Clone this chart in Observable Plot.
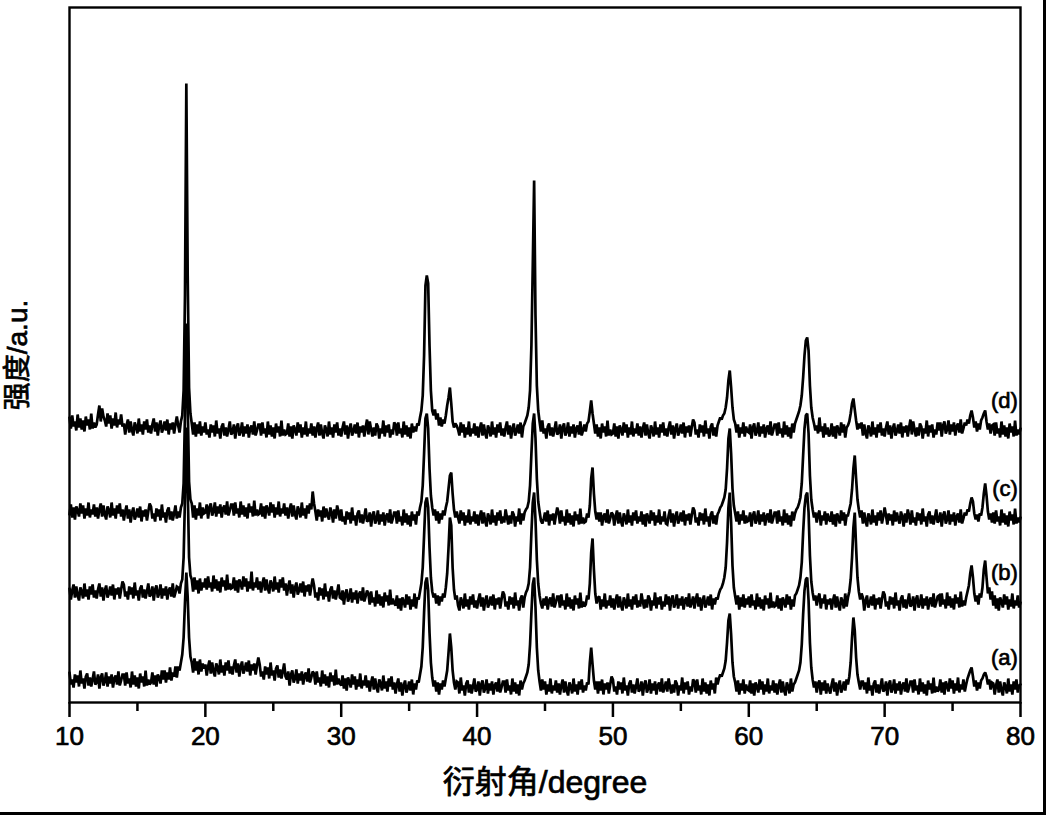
<!DOCTYPE html>
<html><head><meta charset="utf-8">
<script src="https://cdn.jsdelivr.net/npm/d3@7"></script>
<script src="https://cdn.jsdelivr.net/npm/@observablehq/plot@0.6"></script>
<style>
html,body{margin:0;padding:0;background:#fff;}
#wrap{width:1046px;height:815px;position:relative;overflow:hidden;background:#fff;}
#edge{position:absolute;left:0;top:0;width:1046px;height:815px;box-sizing:border-box;border-right:3px solid #000;border-bottom:3px solid #000;pointer-events:none;}
svg text{stroke:#000;stroke-width:0.7px;}
</style></head><body><div id="wrap"><div id="edge"></div></div>
<script>
// each row holds readings at 0.1° steps over 2°, starting at 10°, 12°, ... ; the last row is 80°
const angleStart = 10;
const rowSpan = 2;
const angleStep = 0.1;
const seriesNames = ["(a)", "(b)", "(c)", "(d)"];
const seriesOffsets = [10, 95, 179, 267];
const xTicks = [10, 20, 30, 40, 50, 60, 70, 80];
const xMinorTicks = [15, 25, 35, 45, 55, 65, 75];
const xTitle = "衍射角/degree";
const yTitle = "强度/a.u.";

const aRows = [
[20,8,13,5,18,10,17,6,22,9,14,4,16,19,7,15,6,13,21,8],
[10,18,4,15,19,7,11,20,6,16,9,18,5,14,17,8,21,7,12,18],
[18,7,20,9,14,5,21,8,17,6,15,4,19,10,16,6,22,7,13,8],
[10,20,8,17,6,18,15,9,22,13,22,10,20,13,25,12,20,16,26,15],
[26,22,30,38,55,90,120,95,55,36,30,20,34,22,31,18,33,21,29,24],
[28,17,26,32,19,30,21,16,29,25,18,33,20,27,17,30,22,32,19,26],
[18,27,33,20,29,16,26,31,19,23,30,21,32,17,28,22,29,18,27,35],
[28,16,21,13,26,18,25,14,30,17,22,12,24,27,15,23,14,21,29,16],
[13,21,7,18,22,10,14,23,9,19,12,21,8,17,20,11,24,10,15,21],
[19,8,21,10,15,6,22,9,18,7,16,5,20,11,17,7,23,8,14,9],
[7,17,4,14,2,15,11,5,18,8,16,3,13,6,19,4,12,7,17,5],
[12,1,10,16,3,14,5,0,13,9,2,17,4,11,1,14,6,16,3,10],
[-1,8,14,1,10,-3,7,12,0,4,11,2,13,-2,9,3,12,10,18,26],
[45,80,110,115,102,60,30,15,6,12,1,10,-2,9,3,12,6,14,22,40],
[59,45,22,10,3,11,10,-1,15,2,7,-3,9,12,0,8,-1,6,14,1],
[3,11,-3,8,12,0,4,13,-1,9,2,11,-2,7,10,1,14,0,5,11],
[11,0,13,2,7,-2,14,1,10,-1,8,-3,12,3,9,12,16,20,28,48],
[80,108,115,85,45,22,11,2,13,3,11,-2,8,1,14,-1,7,2,12,0],
[9,-2,7,13,0,11,2,-3,10,6,-1,14,1,8,-2,11,3,13,0,7],
[2,10,8,30,45,28,12,3,11,-1,11,2,13,-2,9,3,10,-1,8,16],
[13,1,6,-2,11,3,10,-1,15,2,7,-3,9,12,0,8,-1,6,14,1],
[3,11,-3,8,12,0,4,13,-1,9,2,11,-2,7,10,1,14,0,5,11],
[1,14,6,-1,8,0,12,9,-3,7,2,15,-1,10,3,11,-2,6,1,13],
[11,0,13,2,7,-2,14,1,10,-1,8,-3,12,3,9,-1,15,8,14,18],
[16,20,24,32,50,72,79,58,30,16,10,1,12,-2,9,2,13,-1,8,3],
[2,12,-1,9,-3,10,6,0,13,3,11,-2,8,1,14,-1,7,2,12,0],
[9,-2,7,13,0,11,2,-3,10,6,-1,14,1,8,10,14,18,22,30,48],
[78,102,113,115,92,50,25,13,5,11,0,9,12,-2,10,2,12,-1,9,3],
[-1,8,14,1,10,-3,7,12,0,4,11,2,13,8,16,30,55,75,62,35],
[18,10,3,11,11,3,10,-1,15,2,7,-3,9,12,0,8,-1,6,14,1],
[3,11,-3,8,12,0,4,13,-1,9,2,11,-2,7,10,1,14,0,5,11],
[11,0,13,2,7,-2,14,1,10,-1,8,-3,12,3,9,-1,15,0,6,1],
[3,13,0,10,-2,11,7,1,14,4,12,-1,9,2,15,0,8,3,13,1],
[8,14,18,22,25,16,6,12,2,10,4,12,14,18,20,16,8,13,3,10],
[9,-2,7,13,0,11,2,-3,10,6,-1,14,1,8,-2,11,3,13,0,7],
[8]];

const bRows = [
[19,8,17,23,10,21,12,7,20,16,9,24,11,18,8,21,13,23,10,17],
[9,18,24,11,20,7,17,22,10,14,21,12,23,8,19,13,20,9,18,26],
[23,11,16,8,21,13,20,9,25,12,17,7,19,22,10,18,9,16,24,11],
[13,21,7,18,22,10,14,23,9,19,12,21,8,17,20,11,24,10,15,21],
[20,14,24,28,50,110,180,120,50,32,28,16,30,18,27,14,29,17,25,20],
[29,18,31,20,25,16,32,19,28,17,26,15,30,21,27,17,33,18,24,19],
[20,30,17,27,15,28,24,18,31,21,29,16,26,19,36,17,25,20,30,18],
[26,15,24,30,17,28,19,14,27,23,16,31,18,25,15,28,20,30,17,24],
[12,21,27,14,23,10,20,25,13,17,24,15,26,11,22,16,23,12,21,29],
[22,10,15,7,20,12,19,8,24,11,16,6,18,21,9,17,8,15,23,10],
[9,17,3,14,18,6,10,19,5,15,8,17,4,13,16,7,20,6,11,17],
[14,3,16,5,10,1,17,4,13,2,11,0,15,6,12,2,18,3,9,4],
[2,12,-1,9,-3,10,6,0,13,3,11,-2,8,1,14,-1,10,8,16,24],
[40,72,105,110,100,60,30,16,10,14,4,12,2,11,6,14,10,20,34,60],
[90,82,40,18,8,12,2,-3,10,6,-1,14,1,8,-2,11,3,13,0,7],
[-1,8,14,1,10,-3,7,12,0,4,11,2,13,-2,9,3,10,-1,8,16],
[13,1,6,-2,11,3,10,-1,15,2,7,-3,9,12,0,10,15,18,24,40],
[75,105,115,88,48,24,12,4,-1,9,2,11,-2,7,10,1,14,0,5,11],
[11,0,13,2,7,-2,14,1,10,-1,8,-3,12,3,9,-1,15,0,6,1],
[3,12,8,24,55,69,38,14,4,10,11,-2,8,1,14,-1,7,2,12,0],
[9,-2,7,13,0,11,2,-3,10,6,-1,14,1,8,-2,11,3,13,0,7],
[1,14,6,-1,8,0,12,9,-3,7,2,15,-1,10,3,11,-2,6,1,13],
[3,11,-3,8,12,0,4,13,-1,9,2,11,-2,7,10,1,14,0,5,11],
[-1,8,14,1,10,-3,7,12,0,4,11,2,13,-2,9,3,10,8,14,18],
[20,24,30,40,65,100,115,85,42,20,11,3,12,-2,10,1,13,0,9,3],
[11,0,13,2,7,-2,14,1,10,-1,8,-3,12,3,9,-1,15,0,6,1],
[2,12,-1,9,-3,10,6,0,13,3,11,-2,8,1,12,14,18,22,30,45],
[75,100,112,115,95,52,26,15,7,12,2,10,14,-1,9,4,13,-2,8,3],
[9,-2,7,13,0,11,2,-3,10,6,-1,14,1,10,16,28,50,80,95,60],
[30,16,8,14,10,-3,7,12,0,4,11,2,13,-2,9,3,10,-1,8,16],
[13,1,6,-2,11,3,10,-1,15,2,7,-3,9,12,0,8,-1,6,14,1],
[3,11,-3,8,12,0,4,13,-1,9,2,11,-2,7,10,1,14,0,5,11],
[12,1,14,3,8,-1,15,2,11,0,9,-2,13,4,10,0,16,1,7,2],
[10,16,22,34,42,30,14,6,12,3,14,10,20,38,47,30,14,20,8,16],
[2,12,-1,9,-3,10,6,0,13,3,11,-2,8,1,14,-1,7,2,12,0],
[5]];

const cRows = [
[9,19,6,16,4,17,13,7,20,10,18,5,15,8,21,6,14,9,19,7],
[16,5,14,20,7,18,9,4,17,13,6,21,8,15,5,18,10,20,7,14],
[3,12,18,5,14,1,11,16,4,8,15,6,17,2,13,7,14,3,12,20],
[17,5,10,2,15,7,14,3,19,6,11,1,13,16,4,12,3,10,18,5],
[12,6,16,20,40,110,200,120,42,24,20,6,18,4,15,8,21,5,16,10],
[11,19,5,16,20,8,12,21,7,17,10,19,6,15,18,9,22,8,13,19],
[19,8,21,10,15,6,22,9,18,7,16,5,20,11,17,7,23,8,14,9],
[10,20,7,17,5,18,14,8,21,11,19,6,16,9,22,7,15,10,20,8],
[16,5,14,20,7,18,9,4,17,13,6,21,8,15,5,18,10,20,14,32],
[20,12,3,14,7,13,2,17,6,15,8,4,16,11,1,14,5,18,12,3],
[14,2,7,-1,12,4,11,0,16,3,8,-2,10,13,1,9,0,7,15,2],
[3,11,-3,8,12,0,4,13,-1,9,2,11,-2,7,10,1,14,0,5,11],
[11,0,13,2,7,-2,14,1,10,-1,8,-3,12,3,9,-1,12,8,16,22],
[38,70,105,110,95,55,28,16,8,14,3,12,0,10,4,13,8,16,22,35],
[48,51,30,14,6,12,6,0,13,3,11,-2,8,1,14,-1,7,2,12,0],
[9,-2,7,13,0,11,2,-3,10,6,-1,14,1,8,-2,11,3,13,0,7],
[1,14,6,-1,8,0,12,9,-3,7,2,15,-1,10,3,11,14,16,22,38],
[70,100,110,85,45,22,12,3,0,4,11,2,13,-2,9,3,10,-1,8,16],
[11,0,13,2,7,-2,14,1,10,-1,8,-3,12,3,9,-1,15,0,6,1],
[2,10,6,18,45,56,30,12,4,11,2,11,-2,7,10,1,14,0,5,11],
[9,-2,7,13,0,11,2,-3,10,6,-1,14,1,8,-2,11,3,13,0,7],
[2,12,-1,9,-3,10,6,0,13,3,11,-2,8,1,14,-1,7,2,12,0],
[-1,8,14,1,10,-3,7,12,0,4,11,2,13,-2,9,3,10,-1,8,16],
[13,1,6,-2,11,3,10,-1,15,2,7,-3,9,12,0,8,-1,9,12,16],
[18,22,26,34,55,85,95,70,35,18,10,2,12,-1,9,3,13,0,8,2],
[3,11,-3,8,12,0,4,13,-1,9,2,11,-2,7,10,1,14,0,5,11],
[11,0,13,2,7,-2,14,1,10,-1,8,-3,12,3,10,14,16,20,26,40],
[68,95,108,110,90,48,24,14,6,11,1,9,13,-2,8,3,12,-1,10,4],
[2,12,-1,9,-3,10,6,0,13,3,11,-2,8,8,14,20,34,55,68,45],
[24,14,6,13,0,11,2,-3,10,6,-1,14,1,8,-2,11,3,13,0,7],
[16,8,-1,10,3,9,-2,13,2,11,4,0,12,7,-3,10,1,14,8,-1],
[13,1,6,-2,11,3,10,-1,15,2,7,-3,9,12,0,8,-1,6,14,1],
[3,11,-3,8,12,0,4,13,-1,9,2,11,-2,7,10,1,14,0,5,11],
[8,14,12,20,26,22,10,4,9,2,10,8,16,30,40,28,12,4,10,1],
[11,0,13,2,7,-2,14,1,10,-1,8,-3,12,3,9,-1,15,0,6,1],
[6]];

const dRows = [
[18,7,20,9,14,5,21,8,17,6,15,4,19,10,16,6,22,7,13,8],
[11,21,30,14,27,19,15,9,22,12,20,7,17,10,23,8,16,11,21,9],
[12,1,10,16,3,14,5,0,13,9,2,17,4,11,1,14,6,16,3,10],
[2,11,17,4,13,0,10,15,3,7,14,5,16,1,12,6,13,2,11,19],
[10,3,14,20,45,140,352,160,48,22,12,1,13,-1,11,2,14,0,9,3],
[13,1,6,-2,11,3,10,-1,15,2,7,-3,9,12,0,8,-1,6,14,1],
[3,11,-3,8,12,0,4,13,-1,9,2,11,-2,7,10,1,14,0,5,11],
[11,0,13,2,7,-2,14,1,10,-1,8,-3,12,3,9,-1,15,0,6,1],
[2,12,-1,9,-3,10,6,0,13,3,11,-2,8,1,14,-1,7,2,12,0],
[9,-2,7,13,0,11,2,-3,10,6,-1,14,1,8,-2,11,3,13,0,7],
[-1,8,14,1,10,-3,7,12,0,4,11,2,13,-2,9,3,10,-1,8,16],
[1,14,6,-1,8,0,12,9,-3,7,2,15,-1,10,3,11,-2,6,1,13],
[11,0,13,2,7,-2,14,1,10,-1,8,-3,12,3,9,4,12,10,18,25],
[40,80,150,160,152,90,45,25,20,26,16,22,10,18,9,16,12,20,30,38],
[48,32,14,8,12,10,6,0,13,3,11,-2,8,1,14,-1,7,2,12,0],
[9,-2,7,13,0,11,2,-3,10,6,-1,14,1,8,-2,11,3,13,0,7],
[-1,8,14,1,10,-3,7,12,0,4,11,2,13,-2,9,12,16,20,28,45],
[90,170,255,120,50,25,14,4,15,2,7,-3,9,12,0,8,-1,6,14,1],
[3,11,-3,8,12,0,4,13,-1,9,2,11,-2,7,10,1,14,0,5,11],
[4,12,14,24,35,22,12,2,11,-1,8,-3,12,3,9,-1,15,0,6,1],
[2,12,-1,9,-3,10,6,0,13,3,11,-2,8,1,14,-1,7,2,12,0],
[9,-2,7,13,0,11,2,-3,10,6,-1,14,1,8,-2,11,3,13,0,7],
[-1,8,14,1,10,-3,7,12,0,4,11,2,13,-2,9,3,10,-1,8,16],
[13,1,6,-2,11,3,10,-1,15,2,7,-3,9,12,0,8,-1,10,14,18],
[16,20,22,28,38,55,65,48,28,16,12,3,11,-2,8,2,13,-1,9,4],
[3,11,-3,8,12,0,4,13,-1,9,2,11,-2,7,10,1,14,0,5,11],
[11,0,13,2,7,-2,14,1,10,-1,8,-3,12,3,12,16,20,24,30,40],
[58,80,95,98,85,50,28,18,12,5,10,2,18,4,9,-2,12,1,8,-1],
[2,12,-1,9,-3,10,6,0,13,3,11,-2,8,10,14,22,32,37,26,15],
[6,12,7,13,0,11,2,-3,10,6,-1,14,1,8,-2,11,3,13,0,7],
[-1,8,14,1,10,-3,7,12,0,4,11,2,13,-2,9,3,10,-1,8,16],
[1,14,6,-1,8,0,12,9,-3,7,2,15,-1,10,3,11,-2,6,1,13],
[5,13,-1,10,14,2,6,15,1,11,4,13,0,9,12,3,16,2,7,13],
[10,16,12,20,25,18,8,14,4,12,6,15,18,22,25,14,6,12,2,10],
[11,0,13,2,7,-2,14,1,10,-1,8,-3,12,3,9,-1,15,0,6,1],
[7]];

const allRows = [aRows, bRows, cRows, dRows];
const rows = [];
allRows.forEach((seriesRows, s) => {
  seriesRows.forEach((r, k) => {
    r.forEach((v, j) => {
      rows.push({series: seriesNames[s], angle: +(angleStart + k * rowSpan + j * angleStep).toFixed(1), value: v + seriesOffsets[s]});
    });
  });
});
const labelRows = seriesNames.map((n, s) => ({series: n, angle: 79.8, value: seriesOffsets[s] + 35}));

const font = "'Liberation Sans', Arial, 'Noto Sans CJK SC', sans-serif";
const chart = Plot.plot({
  width: 1046,
  height: 815,
  marginLeft: 69,
  marginRight: 26,
  marginTop: 7,
  marginBottom: 113,
  style: {fontFamily: font, background: "#fff", color: "#000"},
  x: {domain: [10, 80]},
  y: {domain: [0, 695]},
  marks: [
    Plot.line(rows, {x: "angle", y: "value", z: "series", stroke: "#000", strokeWidth: 2.7, strokeLinejoin: "miter", strokeMiterlimit: 2}),
    Plot.text(labelRows, {x: "angle", y: "value", text: "series", textAnchor: "end", fontSize: 22, fill: "#000"}),
    Plot.axisX({ticks: xMinorTicks, tickSize: 9, strokeWidth: 2.5, text: null, label: null}),
    Plot.axisX({ticks: xTicks, tickSize: 15, tickPadding: 9, strokeWidth: 2.5, fontSize: 26, label: null}),
    Plot.axisX({ticks: [], label: xTitle, labelAnchor: "center", labelArrow: "none", labelOffset: 90, fontSize: 32}),
    Plot.axisY({ticks: [], label: yTitle, labelAnchor: "center", labelArrow: "none", labelOffset: 62, fontSize: 28}),
    Plot.frame({stroke: "#000", strokeWidth: 2.4})
  ]
});
document.getElementById("wrap").prepend(chart);
</script>
</body></html>
